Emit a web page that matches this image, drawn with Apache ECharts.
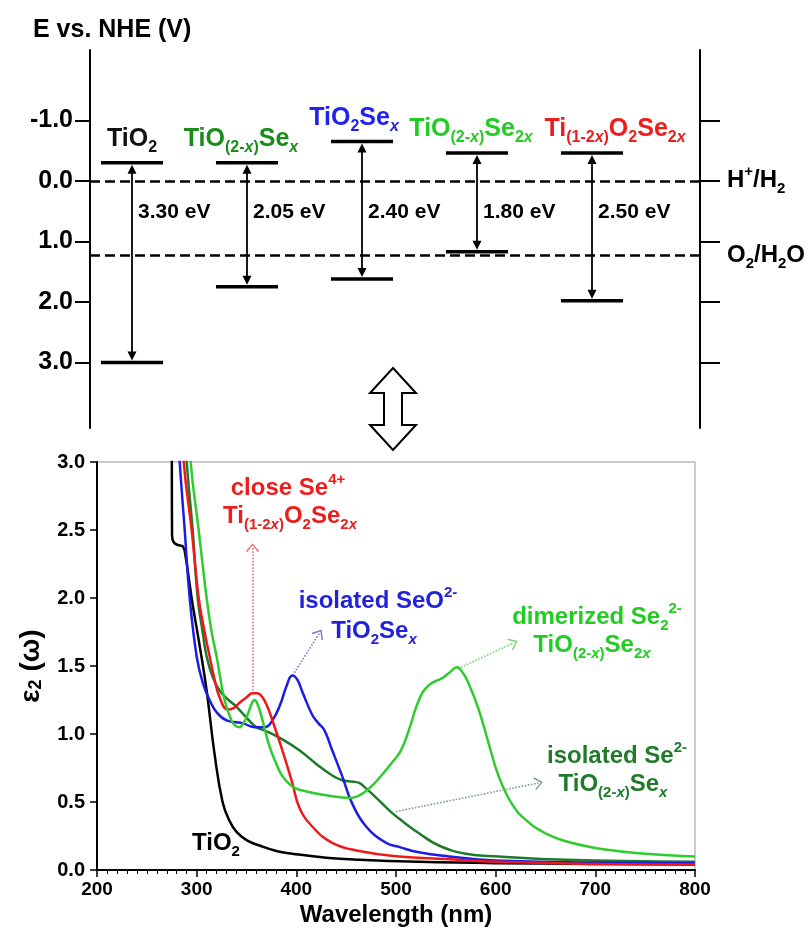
<!DOCTYPE html>
<html><head><meta charset="utf-8">
<script src="https://cdn.jsdelivr.net/npm/echarts@6/dist/echarts.min.js"></script>
<style>html,body{margin:0;padding:0;background:#fff}#c{width:811px;height:935px}</style>
</head><body><div id="c"></div>
<script>
// ---------- Band diagram data ----------
const materials = ['TiO2', 'TiO(2-x)Sex', 'TiO2Sex', 'TiO(2-x)Se2x', 'Ti(1-2x)O2Se2x'];
const conductionBand = [-0.30, -0.30, -0.65, -0.46, -0.46];
const valenceBand = [3.00, 1.75, 1.62, 1.17, 1.98];
const gapLabels = ['3.30 eV', '2.05 eV', '2.40 eV', '1.80 eV', '2.50 eV'];
const energyTicks = [-1, 0, 1, 2, 3];
const redoxPotentials = [0, 1.23];
const redoxNames = ['H+/H2', 'O2/H2O'];

// ---------- Spectra data: [wavelength (nm), epsilon2] ----------
const tio2 = [[275,3.3],[275.3,2.46],[277,2.41],[281,2.39],[286,2.38],[289,2.3],[292,2.15],[296,1.95],[303,1.65],[310,1.32],[318,0.85],[326,0.50],[333,0.36],[340,0.28],[350,0.22],[363,0.18],[380,0.14],[396,0.12],[430,0.09],[463,0.075],[523,0.06],[600,0.05],[700,0.045],[800,0.04]];
const tio2Sex = [[282,3.2],[283,3.0],[288,2.5],[293,2.0],[300,1.57],[306,1.38],[313,1.25],[320,1.16],[330,1.10],[346,1.08],[358,1.05],[368,1.05],[376,1.10],[384,1.22],[390,1.35],[396,1.43],[401,1.40],[406,1.31],[416,1.14],[422,1.08],[428,1.03],[436,0.88],[446,0.69],[456,0.49],[470,0.32],[490,0.20],[503,0.17],[523,0.13],[553,0.10],[600,0.07],[700,0.055],[800,0.05]];
const ti12xO2Se2x = [[286,3.2],[287,3.0],[295,2.5],[302,2.0],[308,1.75],[313,1.57],[318,1.40],[323,1.27],[331,1.18],[337,1.19],[343,1.23],[350,1.27],[356,1.30],[361,1.30],[366,1.27],[371,1.20],[376,1.10],[386,0.88],[396,0.64],[403,0.46],[416,0.32],[436,0.20],[463,0.14],[503,0.10],[550,0.08],[600,0.06],[700,0.045],[800,0.04]];
const tio2xSex = [[289,3.2],[290,3.0],[296,2.5],[301,2.0],[306,1.75],[310,1.57],[316,1.42],[323,1.32],[332,1.25],[340,1.20],[350,1.12],[360,1.05],[370,1.02],[386,0.96],[403,0.88],[420,0.78],[435,0.70],[446,0.66],[456,0.65],[463,0.64],[470,0.60],[476,0.56],[486,0.49],[496,0.42],[508,0.35],[523,0.27],[543,0.18],[570,0.12],[603,0.10],[670,0.075],[800,0.06]];
const tio2xSe2x = [[293,3.2],[294,3.0],[302,2.5],[310,2.0],[315,1.75],[320,1.57],[328,1.25],[335,1.10],[339,1.06],[343,1.05],[347,1.08],[351,1.14],[355,1.22],[358,1.25],[361,1.22],[365,1.13],[373,0.91],[380,0.78],[386,0.69],[395,0.62],[403,0.59],[430,0.55],[455,0.53],[466,0.56],[476,0.62],[486,0.70],[496,0.79],[505,0.88],[513,1.03],[523,1.25],[533,1.36],[546,1.41],[555,1.46],[561,1.49],[567,1.45],[573,1.37],[583,1.18],[593,0.93],[603,0.69],[616,0.49],[630,0.37],[650,0.27],[676,0.20],[710,0.15],[750,0.12],[800,0.10]];

// annotation arrows (data coordinates: from -> to)
const arrowClose = [[356,1.32],[356,2.37]];
const arrowSeO = [[398,1.45],[423,1.74]];
const arrowDimer = [[565,1.49],[618,1.67]];
const arrowIsolated = [[500,0.43],[643,0.64]];

// ---------- styling ----------
const F = "'Liberation Sans', Arial, Helvetica, sans-serif";
function rich(size, color) {
  const sub = Math.round(size * 0.64);
  const base = {fontFamily: F, fontWeight: 'bold', color: color, fill: color};
  return {
    s: Object.assign({}, base, {fontSize: sub, lineHeight: sub, verticalAlign: 'bottom'}),
    si: Object.assign({}, base, {fontSize: sub, lineHeight: sub, verticalAlign: 'bottom', fontStyle: 'italic'}),
    u: Object.assign({}, base, {fontSize: sub, lineHeight: sub, verticalAlign: 'top'}),
    e: Object.assign({}, base, {fontSize: size})
  };
}
const formulaRich = {
  'TiO2': 'TiO{s|2}',
  'TiO(2-x)Sex': 'TiO{s|(2-}{si|x}{s|)}Se{si|x}',
  'TiO2Sex': 'TiO{s|2}Se{si|x}',
  'TiO(2-x)Se2x': 'TiO{s|(2-}{si|x}{s|)}Se{s|2}{si|x}',
  'Ti(1-2x)O2Se2x': 'Ti{s|(1-2}{si|x}{s|)}O{s|2}Se{s|2}{si|x}'
};
const redoxRich = {'H+/H2': 'H{u|+}/H{s|2}', 'O2/H2O': 'O{s|2}/H{s|2}O'};
const materialColors = ['#111111', '#1a8c1a', '#2222ee', '#22cc22', '#ee1c1c'];
const labelShift = [0, -6, -8, -6, 23];
const gapLabelLevel = 0.51;

const C_BLACK = '#000000', C_RED = '#f01818', C_BLUE = '#1c1ce6', C_DGREEN = '#1f7a2a', C_GREEN = '#2ecc2e';
const chevron = 'path://M10,0L20,11L18.3,12.5L10,3L1.7,12.5L0,11Z';

function arrowLine(pts, color) {
  return {
    silent: true, symbol: ['none', chevron], symbolSize: [13, 9],
    label: {show: false}, animation: false,
    lineStyle: {type: 'dotted', width: 1.6, color: color},
    data: [[{coord: pts[0]}, {coord: pts[1]}]]
  };
}
function txt(x, y, text, size, color) {
  return {type: 'text', x: x, y: y, style: {text: text, rich: rich(size, color), fill: color,
    fontSize: size, fontWeight: 'bold', fontFamily: F, lineHeight: Math.round(size * 1.35),
    align: 'center', verticalAlign: 'middle'}};
}

const chart = echarts.init(document.getElementById('c'), null, {renderer: 'canvas'});
const lineBase = {type: 'line', xAxisIndex: 2, yAxisIndex: 3, showSymbol: false, smooth: 0.45,
  clip: true, silent: true};

const cx = 393;
chart.setOption({
  animation: false,
  backgroundColor: '#ffffff',
  title: {text: 'E vs. NHE (V)', left: 28, top: 13,
    textStyle: {fontSize: 25, fontWeight: 'bold', color: '#000', fontFamily: F}},
  grid: [
    {left: 90, right: 111, top: 50, height: 378, outerBoundsMode: 'none'},
    {left: 74.5, width: 575, top: 50, height: 378, outerBoundsMode: 'none'},
    {left: 97, right: 116, top: 462, height: 408, show: true, borderColor: '#9a9a9a', borderWidth: 1, outerBoundsMode: 'none'}
  ],
  xAxis: [
    {gridIndex: 0, type: 'value', min: 0, max: 1, show: false},
    {gridIndex: 1, type: 'category', data: materials, show: false},
    {gridIndex: 2, type: 'value', min: 200, max: 800, interval: 100,
      axisLine: {show: true, lineStyle: {color: '#000', width: 2}},
      axisTick: {show: true, length: 7, lineStyle: {color: '#000', width: 1.5}},
      minorTick: {show: true, splitNumber: 10, length: 4, lineStyle: {color: '#000', width: 1}},
      splitLine: {show: false}, minorSplitLine: {show: false},
      axisLabel: {color: '#000', fontSize: 19, fontWeight: 'bold', fontFamily: F, margin: 10},
      name: 'Wavelength (nm)', nameLocation: 'middle', nameGap: 33,
      nameTextStyle: {color: '#000', fontSize: 24, fontWeight: 'bold', fontFamily: F}}
  ],
  yAxis: [
    {gridIndex: 0, type: 'value', min: -2.16, max: 4.08, inverse: true,
      axisLine: {show: true, lineStyle: {color: '#000', width: 2}},
      axisTick: {show: true, customValues: energyTicks, length: 15, lineStyle: {color: '#000', width: 2}},
      axisLabel: {customValues: energyTicks, formatter: v => v.toFixed(1), color: '#000',
        fontSize: 25, fontWeight: 'bold', fontFamily: F, margin: 17},
      splitLine: {show: false}},
    {gridIndex: 0, type: 'value', min: -2.16, max: 4.08, inverse: true, position: 'right',
      axisLine: {show: true, lineStyle: {color: '#000', width: 2}},
      axisTick: {show: true, customValues: energyTicks, length: 20, lineStyle: {color: '#000', width: 2}},
      axisLabel: {customValues: redoxPotentials,
        formatter: v => redoxRich[redoxNames[redoxPotentials.indexOf(v)]] || '',
        color: '#000', fontSize: 24, fontWeight: 'bold', fontFamily: F, margin: 27, lineHeight: 32,
        rich: rich(24, '#000')},
      splitLine: {show: false}},
    {gridIndex: 1, type: 'value', min: -2.16, max: 4.08, inverse: true, show: false},
    {gridIndex: 2, type: 'value', min: 0, max: 3, interval: 0.5,
      axisLine: {show: true, lineStyle: {color: '#000', width: 2}},
      axisTick: {show: true, length: 7, lineStyle: {color: '#000', width: 1.5}},
      splitLine: {show: false},
      axisLabel: {formatter: v => v.toFixed(1), color: '#000', fontSize: 20, fontWeight: 'bold', fontFamily: F, margin: 12},
      name: '{e|ε}{s|2}{e| (ω)}', nameLocation: 'middle', nameGap: 52, nameRotate: 90,
      nameTextStyle: {color: '#000', fontSize: 28, fontWeight: 'bold', fontFamily: F, rich: rich(28, '#000')}}
  ],
  graphic: [
    {type: 'polygon', z: 10, shape: {points: [[cx,368],[cx+23,393],[cx+9,393],[cx+9,425],[cx+23,425],[cx,450],[cx-23,425],[cx-9,425],[cx-9,393],[cx-23,393]]},
      style: {fill: '#fff', stroke: '#000', lineWidth: 2}},
    txt(288, 488, 'close Se{u|4+}', 24, '#ee1c1c'),
    txt(290, 516, 'Ti{s|(1-2}{si|x}{s|)}O{s|2}Se{s|2}{si|x}', 24, '#ee1c1c'),
    txt(378, 601, 'isolated SeO{u|2-}', 24, '#2222dd'),
    txt(374, 631, 'TiO{s|2}Se{si|x}', 24, '#2222dd'),
    txt(597, 617, 'dimerized Se{s|2}{u|2-}', 24, '#22cc22'),
    txt(592, 645, 'TiO{s|(2-}{si|x}{s|)}Se{s|2}{si|x}', 24, '#22cc22'),
    txt(617, 756, 'isolated Se{u|2-}', 24, '#1f7a2a'),
    txt(613, 784, 'TiO{s|(2-}{si|x}{s|)}Se{si|x}', 24, '#1f7a2a'),
    txt(216, 843, 'TiO{s|2}', 24, '#000')
  ],
  series: [
    {type: 'scatter', xAxisIndex: 0, yAxisIndex: 0, symbolSize: 0, silent: true,
      data: redoxPotentials.map(v => [0.5, v]),
      markLine: {silent: true, symbol: 'none', label: {show: false}, animation: false,
        lineStyle: {type: [10, 5], width: 2.5, color: '#000'},
        data: redoxPotentials.map(v => ({yAxis: v}))}},
    {type: 'custom', xAxisIndex: 1, yAxisIndex: 2, silent: true,
      data: materials.map((m, i) => [i, conductionBand[i], valenceBand[i]]),
      renderItem: function (params, api) {
        const i = api.value(0);
        const p1 = api.coord([i, api.value(1)]);
        const p2 = api.coord([i, api.value(2)]);
        const pm = api.coord([i, gapLabelLevel]);
        const bw = api.size([1, 0])[0] * 0.54;
        const x = p1[0];
        const head = 10, hw = 4.5;
        const col = materialColors[i];
        return {type: 'group', children: [
          {type: 'line', shape: {x1: x - bw / 2, y1: p1[1], x2: x + bw / 2, y2: p1[1]}, style: {stroke: '#000', lineWidth: 3.5}},
          {type: 'line', shape: {x1: x - bw / 2, y1: p2[1], x2: x + bw / 2, y2: p2[1]}, style: {stroke: '#000', lineWidth: 3.5}},
          {type: 'line', shape: {x1: x, y1: p1[1] + head, x2: x, y2: p2[1] - head}, style: {stroke: '#000', lineWidth: 1.8}},
          {type: 'polygon', shape: {points: [[x, p1[1] + 2], [x - hw, p1[1] + head + 1], [x + hw, p1[1] + head + 1]]}, style: {fill: '#000'}},
          {type: 'polygon', shape: {points: [[x, p2[1] - 2], [x - hw, p2[1] - head - 1], [x + hw, p2[1] - head - 1]]}, style: {fill: '#000'}},
          {type: 'text', x: x + 6, y: pm[1], style: {text: gapLabels[i], fill: '#000', fontSize: 21, fontWeight: 'bold',
            fontFamily: F, align: 'left', verticalAlign: 'middle'}},
          {type: 'text', x: x + labelShift[i], y: p1[1] - 7, style: {text: formulaRich[materials[i]], rich: rich(25, col),
            fill: col, fontSize: 25, fontWeight: 'bold', fontFamily: F, lineHeight: 33, align: 'center', verticalAlign: 'bottom'}}
        ]};
      }},
    Object.assign({}, lineBase, {name: 'TiO2', data: tio2, lineStyle: {color: C_BLACK, width: 2.5}, itemStyle: {color: C_BLACK}}),
    Object.assign({}, lineBase, {name: 'TiO(2-x)Sex', data: tio2xSex, lineStyle: {color: C_DGREEN, width: 2.5}, itemStyle: {color: C_DGREEN},
      markLine: arrowLine(arrowIsolated, '#7d9c8a')}),
    Object.assign({}, lineBase, {name: 'TiO2Sex', data: tio2Sex, lineStyle: {color: C_BLUE, width: 2.5}, itemStyle: {color: C_BLUE},
      markLine: arrowLine(arrowSeO, '#7a7ad8')}),
    Object.assign({}, lineBase, {name: 'Ti(1-2x)O2Se2x', data: ti12xO2Se2x, lineStyle: {color: C_RED, width: 2.5}, itemStyle: {color: C_RED},
      markLine: arrowLine(arrowClose, '#f07070')}),
    Object.assign({}, lineBase, {name: 'TiO(2-x)Se2x', data: tio2xSe2x, lineStyle: {color: C_GREEN, width: 2.5}, itemStyle: {color: C_GREEN},
      markLine: arrowLine(arrowDimer, '#6edc6e')})
  ]
});
</script>
</body></html>
